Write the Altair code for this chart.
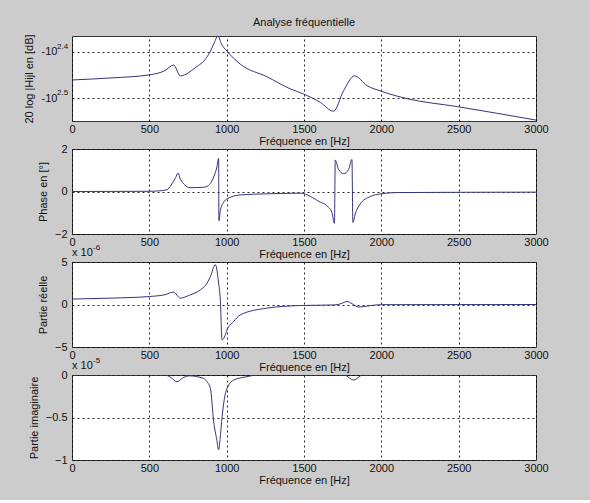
import altair as alt
import pandas as pd

# ---------------- data ----------------
# Panel 1 : 20 log|Hij| (plotted as exponent e of -10^e)
f_mag = [0, 250, 500, 600, 657, 700, 800, 870, 895, 920, 944, 965, 1002, 1088, 1260,
         1411, 1497, 1605, 1691, 1756, 1827, 1907, 1998, 2166, 2489, 3000]
mag_exp = [2.461, 2.4566, 2.450, 2.441, 2.429, 2.452, 2.434, 2.413, 2.399, 2.381, 2.366,
           2.383, 2.399, 2.427, 2.454, 2.480, 2.491, 2.509, 2.528, 2.484, 2.452, 2.473,
           2.485, 2.501, 2.518, 2.547]
mag_ticks = [2.4, 2.5]
mag_tick_sup = ["2.4", "2.5"]

# Panel 2 : phase
f_phase = [0, 500, 560, 614, 640, 670, 685, 700, 730, 765, 850, 873, 916, 937, 948, 950,
           959, 980, 1002, 1088, 1260, 1476, 1605, 1648, 1680, 1697, 1702, 1724, 1756,
           1788, 1810, 1816, 1831, 1863, 1928, 1998, 2101, 3000]
phase = [0.0, 0.01, 0.03, 0.08, 0.3, 0.65, 0.87, 0.6, 0.3, 0.18, 0.2, 0.24, 0.68, 1.16,
         1.56, -1.38, -0.9, -0.51, -0.35, -0.16, -0.11, -0.08, -0.5, -0.67, -0.98, -1.5,
         1.48, 1.03, 0.84, 1.03, 1.51, -1.46, -1.06, -0.59, -0.24, -0.11, -0.05, -0.03]
phase_ticks = [-2, 0, 2]

# Panel 3 : real part (x 1e-6)
f_real = [0, 250, 500, 600, 657, 700, 760, 830, 873, 895, 927, 948, 959, 970, 985, 1002,
          1045, 1088, 1260, 1476, 1700, 1740, 1778, 1810, 1853, 1920, 2000, 3000]
real = [0.64, 0.75, 0.94, 1.15, 1.46, 0.75, 1.1, 1.73, 2.5, 3.3, 4.69, 2.53, 0.55, -4.17,
        -3.85, -2.99, -2.0, -1.22, -0.43, -0.12, -0.05, 0.1, 0.35, 0.1, -0.3, -0.15,
        -0.02, 0.0]
real_ticks = [-5, 0, 5]

# Panel 4 : imaginary part (x 1e-5)
f_imag = [0, 600, 640, 679, 720, 760, 850, 873, 895, 916, 935, 948, 960, 970, 985, 1002,
          1045, 1131, 1200, 1760, 1821, 1880, 3000]
imag = [0.0, 0.0, -0.03, -0.08, -0.03, -0.01, -0.04, -0.08, -0.16, -0.55, -0.75, -0.88,
        -0.7, -0.5, -0.28, -0.16, -0.06, -0.02, 0.0, 0.0, -0.06, 0.0, 0.0]
imag_ticks = [-1, -0.5, 0]

x_ticks = [0, 500, 1000, 1500, 2000, 2500, 3000]

# ---------------- styling ----------------
FONT = "Liberation Sans"
LINE = "#34347a"
W, H = 464, 85


def x_enc():
    return alt.X("f:Q",
                 scale=alt.Scale(domain=[0, 3000], nice=False, zero=False),
                 axis=alt.Axis(values=x_ticks, title="Fréquence en [Hz]", labelFlush=False,
                               labelPadding=2, titlePadding=1, grid=True, format="d"))


def line_layer(freqs, vals, y):
    df = pd.DataFrame({"f": freqs, "v": vals})
    return alt.Chart(df).mark_line(color=LINE, strokeWidth=1, clip=True,
                                   interpolate="monotone").encode(x=x_enc(), y=y)


def text_layer(txt, x, y, size=11, align="left"):
    return alt.Chart(pd.DataFrame({"t": [txt]})).mark_text(
        font=FONT, fontSize=size, color="#111", align=align, baseline="middle"
    ).encode(text="t:N", x=alt.value(x), y=alt.value(y))


# Panel 1
y1 = alt.Y("v:Q", scale=alt.Scale(domain=[2.3666, 2.549], reverse=True, nice=False, zero=False),
           axis=alt.Axis(values=mag_ticks, labelExpr="'-10'", labelPadding=15,
                         title="20 log |Hijl en [dB]", titlePadding=7, grid=True))
sup_df = pd.DataFrame({"v": mag_ticks, "t": mag_tick_sup})
sup1 = alt.Chart(sup_df).mark_text(font=FONT, fontSize=8, color="#111", align="left",
                                   baseline="middle", dy=-5).encode(
    x=alt.value(-15), y=alt.Y("v:Q"), text="t:N")
p1 = alt.layer(line_layer(f_mag, mag_exp, y1), sup1,
               text_layer("Analyse fréquentielle", W / 2, -13, 11, "center")).properties(width=W, height=H)

# Panel 2
y2 = alt.Y("v:Q", scale=alt.Scale(domain=[-2, 2], nice=False),
           axis=alt.Axis(values=phase_ticks, title="Phase en [°]", labelPadding=5, titlePadding=6,
                         grid=True, format="~g"))
p2 = line_layer(f_phase, phase, y2).properties(width=W, height=H)

# Panel 3
y3 = alt.Y("v:Q", scale=alt.Scale(domain=[-5, 5], nice=False),
           axis=alt.Axis(values=real_ticks, title="Partie réelle", labelPadding=5, titlePadding=6,
                         grid=True, format="~g"))
p3 = alt.layer(line_layer(f_real, real, y3),
               text_layer("x 10", 0, -9), text_layer("-6", 21, -14, 8)).properties(width=W, height=H)

# Panel 4
y4 = alt.Y("v:Q", scale=alt.Scale(domain=[-1, 0], nice=False),
           axis=alt.Axis(values=imag_ticks, title="Partie imaginaire", labelPadding=5, titlePadding=6,
                         grid=True, format="~g"))
p4 = alt.layer(line_layer(f_imag, imag, y4),
               text_layer("x 10", 0, -9), text_layer("-5", 21, -14, 8)).properties(width=W, height=H)

chart = alt.vconcat(p1, p2, p3, p4, spacing=28, bounds="flush").properties(
    background="#cccccc",
    padding={"left": 22, "top": 16, "right": 41, "bottom": 14},
).configure_view(
    stroke="#333333", strokeWidth=1, fill="white"
).configure_axis(
    labelFont=FONT, titleFont=FONT, labelFontSize=11, titleFontSize=11,
    labelColor="#111111", titleColor="#111111", titleFontWeight="normal",
    domain=False, ticks=False, gridColor="#000000", gridOpacity=0.85,
    gridDash=[2, 3], gridWidth=1,
)

chart.save("out.html", embed_options={"renderer": "svg", "actions": False})
